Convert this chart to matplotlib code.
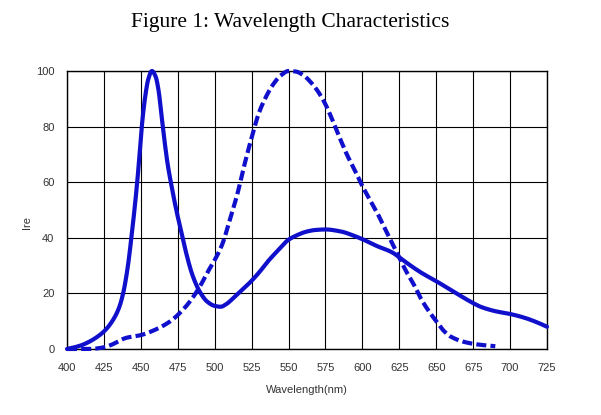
import matplotlib
matplotlib.use('Agg')
import matplotlib.pyplot as plt
import numpy as np

# Solid curve (sensor spectral response)
solid_wl = [400, 405, 410, 415, 420, 425, 430, 435, 438, 441, 444, 447, 449, 451,
            453, 455, 457.5, 460, 462, 464, 466, 468, 471, 474, 477, 480, 485, 490,
            495, 500, 504, 508, 512, 518, 524, 530, 536, 542, 550, 556, 562, 568,
            575, 586, 593, 600, 610, 620, 625, 630, 640, 650, 660, 670, 675, 680,
            690, 700, 710, 720, 725]
solid_val = [0, 0.6, 1.4, 2.6, 4.2, 6.3, 9.5, 14.5, 20, 29, 42, 57, 69, 82,
             91, 97, 100, 98, 93, 84, 75, 67, 58, 50, 43, 36, 26.5, 20.5,
             17, 15.5, 15.2, 16.2, 18, 21, 24, 27.5, 31.5, 35, 39.3, 41, 42.2, 42.8,
             43, 42.2, 41, 39.5, 37, 34.8, 33, 31, 27.4, 24.4, 21.2, 18, 16.5, 15.2,
             13.6, 12.6, 11.2, 9.2, 8]

# Dashed curve (eye response)
dash_wl = [400, 405, 415, 425, 430, 440, 450, 460, 470, 480, 485, 490, 495, 500,
           505, 510, 515, 520, 525, 530, 535, 540, 545, 550, 555, 560, 565, 570,
           575, 580, 585, 590, 595, 600, 605, 610, 615, 620, 625, 630, 635, 640,
           645, 650, 655, 660, 670, 680, 690]
dash_val = [0, 0, 0, 0.6, 1.5, 4, 5, 7, 10, 15, 18.4, 22.5, 27.5, 32,
            37.5, 46, 55, 66, 76, 85, 91, 95.5, 98.5, 100, 99.8, 98.5, 96, 92.6,
            88, 82, 75.5, 69.4, 64.2, 58.6, 53.8, 49, 43.6, 38.2, 32.8, 27.6, 23, 17.8,
            13.6, 10, 6.6, 4.4, 2.4, 1.5, 1]

x_ticks = list(range(400, 726, 25))
y_ticks = [0, 20, 40, 60, 80, 100]

BLUE = '#1010cc'
LABEL_FONT = 'Liberation Sans'


def pchip(xs, ys, per_seg=10):
    """Monotone cubic resampling so the thick strokes look smooth."""
    x = np.asarray(xs, float)
    y = np.asarray(ys, float)
    h = np.diff(x)
    d = np.diff(y) / h
    m = np.zeros_like(y)
    for i in range(1, len(x) - 1):
        if d[i - 1] * d[i] > 0:
            w1 = 2 * h[i] + h[i - 1]
            w2 = h[i] + 2 * h[i - 1]
            m[i] = (w1 + w2) / (w1 / d[i - 1] + w2 / d[i])
    m[0], m[-1] = d[0], d[-1]
    ox, oy = [], []
    for i in range(len(x) - 1):
        t = np.linspace(0, 1, per_seg, endpoint=False)
        h00 = 2 * t**3 - 3 * t**2 + 1
        h10 = t**3 - 2 * t**2 + t
        h01 = -2 * t**3 + 3 * t**2
        h11 = t**3 - t**2
        ox.extend(x[i] + t * h[i])
        oy.extend(h00 * y[i] + h10 * h[i] * m[i] + h01 * y[i + 1] + h11 * h[i] * m[i + 1])
    ox.append(x[-1])
    oy.append(y[-1])
    return np.array(ox), np.array(oy)


def main():
    fig = plt.figure(figsize=(6.01, 4.15), dpi=100)
    ax = fig.add_axes([67 / 601, 1 - 349 / 415, 480 / 601, 278 / 415])

    sx, sy = pchip(solid_wl, solid_val)
    dx, dy = pchip(dash_wl, dash_val)
    ax.plot(sx, sy, color=BLUE, lw=3.0, solid_capstyle='round', clip_on=False, zorder=3)
    ax.plot(dx, dy, color=BLUE, lw=3.0, linestyle=(0, (2.4, 1.0)), clip_on=False, zorder=3)

    ax.set_xlim(400, 725)
    ax.set_ylim(0, 100)
    ax.set_xticks(x_ticks)
    ax.set_yticks(y_ticks)
    ax.grid(True, color='black', lw=0.8)
    ax.tick_params(length=0, labelsize=8, colors='#333333')
    ax.tick_params(axis='x', pad=10)
    ax.tick_params(axis='y', pad=9)
    for lab in ax.get_xticklabels() + ax.get_yticklabels():
        lab.set_family(LABEL_FONT)
    for s in ax.spines.values():
        s.set_linewidth(1.0)
    ax.set_xlabel('Wavelength(nm)', fontsize=8, color='#333333', family=LABEL_FONT, labelpad=9)
    ax.set_ylabel('Ire', fontsize=8, color='#333333', family=LABEL_FONT)
    ax.yaxis.set_label_coords(-0.072, 0.455)

    fig.text(290 / 601, 1 - 23 / 415, 'Figure 1: Wavelength Characteristics',
             ha='center', va='center', fontsize=15.5, family='Liberation Serif')

    fig.savefig('out.png', dpi=100)


if __name__ == "__main__":
    main()
